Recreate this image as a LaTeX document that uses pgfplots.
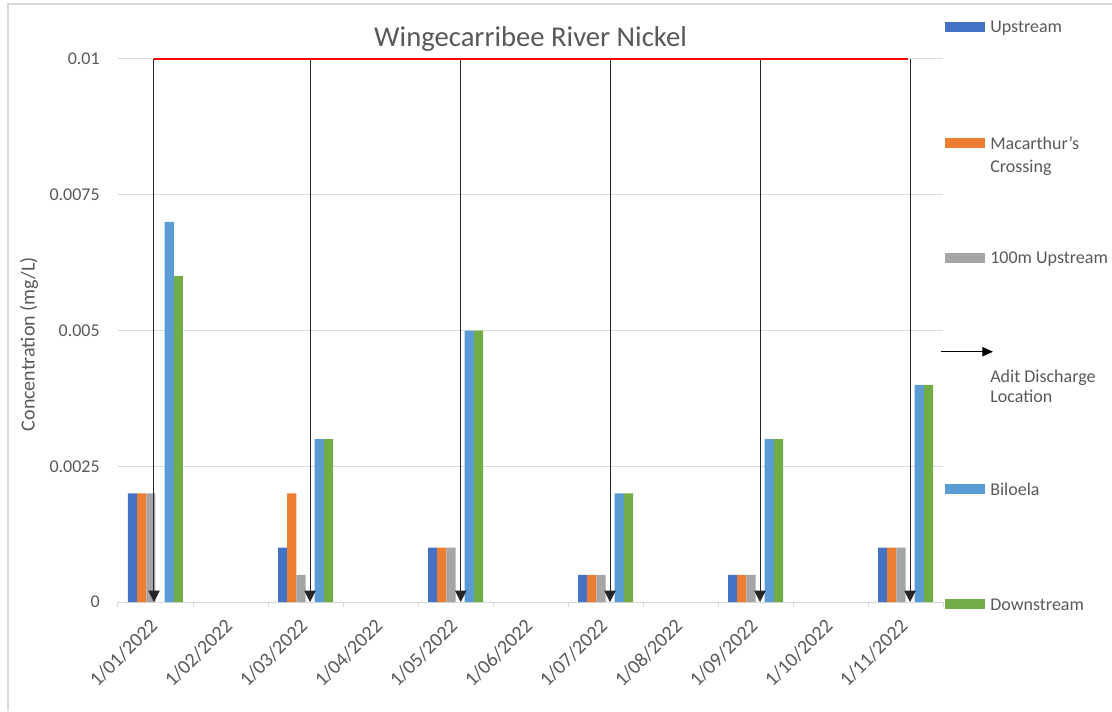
\documentclass[border=0pt]{standalone}
\usepackage{fontspec}
\setmainfont{Carlito}
\usepackage{pgfplots}
\usepackage{pgfplotstable}
\pgfplotsset{compat=1.18}
\usetikzlibrary{arrows.meta}

\definecolor{cUp}{HTML}{4472C4}
\definecolor{cMac}{HTML}{ED7D31}
\definecolor{cHun}{HTML}{A5A5A5}
\definecolor{cBil}{HTML}{5B9BD5}
\definecolor{cDown}{HTML}{70AD47}
\definecolor{txt}{HTML}{595959}
\definecolor{grd}{HTML}{D9D9D9}

% sampling months at 0,2,...,10 (1/01 ... 1/11)
\pgfplotstableread{
x  up     mac    hun    bil    down
0  0.002  0.002  0.002  0.007  0.006
2  0.001  0.002  0.0005 0.003  0.003
4  0.001  0.001  0.001  0.005  0.005
6  0.0005 0.0005 0.0005 0.002  0.002
8  0.0005 0.0005 0.0005 0.003  0.003
10 0.001  0.001  0.001  0.004  0.004
}\nickel

\begin{document}
\begin{tikzpicture}
\begin{axis}[
  at={(0,0)}, anchor=south west,
  scale only axis, width=618.75pt, height=407.25pt,
  xmin=-0.5, xmax=10.5, ymin=0, ymax=0.01,
  clip=false,
  axis line style={draw=none},
  xtick={0,...,10},
  xticklabels={1/01/2022,1/02/2022,1/03/2022,1/04/2022,1/05/2022,1/06/2022,
                1/07/2022,1/08/2022,1/09/2022,1/10/2022,1/11/2022},
  minor xtick={-0.5,0.5,...,10.5},
  ytick={0,0.0025,0.005,0.0075,0.01},
  yticklabels={0,0.0025,0.005,0.0075,0.01},
  scaled y ticks=false,
  major tick length=0pt, minor tick length=3.75pt, tick align=outside,
  tick pos=left,
  tick style={grd, line width=0.75pt},
  ymajorgrids, grid style={grd, line width=0.75pt},
  ticklabel style={font=\fontsize{13.5}{16}\selectfont, text=txt},
  yticklabel style={inner sep=0pt, anchor=east, xshift=-13.5pt},
  xticklabel style={font=\fontsize{15}{18}\selectfont, inner sep=0pt,
                    xshift=-5pt, yshift=-11pt, rotate=45, anchor=north east},
  ylabel={Concentration (mg/L)},
  ylabel style={font=\fontsize{15}{18}\selectfont, text=txt,
                at={(axis description cs:-0.1079,0.475)}, anchor=center},
  title={Wingecarribee River Nickel},
  every axis title/.style={at={(axis description cs:0.5,1)}, anchor=base, yshift=9pt,
               font=\fontsize{21.5}{26}\selectfont, text=txt},
]
\addplot[ybar, bar width=6.875pt, bar shift=-17.1875pt, fill=cUp, draw=none] table[x=x,y=up]{\nickel};
\addplot[ybar, bar width=6.875pt, bar shift=-10.3125pt, fill=cMac, draw=none] table[x=x,y=mac]{\nickel};
\addplot[ybar, bar width=6.875pt, bar shift=-3.4375pt, fill=cHun, draw=none] table[x=x,y=hun]{\nickel};
\addplot[ybar, bar width=6.875pt, bar shift=10.3125pt, fill=cBil, draw=none] table[x=x,y=bil]{\nickel};
\addplot[ybar, bar width=6.875pt, bar shift=17.1875pt, fill=cDown, draw=none] table[x=x,y=down]{\nickel};

% adit discharge location arrows
\addplot[black!85, line width=0.75pt, -{Triangle[length=8.5pt,width=8.5pt]}] coordinates {(-0.02,0.01) (-0.02,0)};
\addplot[black!85, line width=0.75pt, -{Triangle[length=8.5pt,width=8.5pt]}] coordinates {(2.06,0.01) (2.06,0)};
\addplot[black!85, line width=0.75pt, -{Triangle[length=8.5pt,width=8.5pt]}] coordinates {(4.07,0.01) (4.07,0)};
\addplot[black!85, line width=0.75pt, -{Triangle[length=8.5pt,width=8.5pt]}] coordinates {(6.06,0.01) (6.06,0)};
\addplot[black!85, line width=0.75pt, -{Triangle[length=8.5pt,width=8.5pt]}] coordinates {(8.06,0.01) (8.06,0)};
\addplot[black!85, line width=0.75pt, -{Triangle[length=8.5pt,width=8.5pt]}] coordinates {(10.06,0.01) (10.06,0)};

% guideline value
\addplot[red, line width=2pt] coordinates {(-0.02,0.01) (10.03,0.01)};
\end{axis}

% legend
\begin{scope}[font=\fontsize{13.5}{16}\selectfont, text=txt]
\fill[cUp] (620.25pt,427.5pt) rectangle ++(30pt,7.5pt);
\node[anchor=base west, inner sep=0pt] at (654pt,426.75pt) {Upstream};
\fill[cMac] (620.25pt,340.25pt) rectangle ++(30pt,7.5pt);
\node[anchor=base west, inner sep=0pt] at (654pt,339.5pt) {Macarthur’s};
\node[anchor=base west, inner sep=0pt] at (654pt,322pt) {Crossing};
\fill[cHun] (620.25pt,254.25pt) rectangle ++(30pt,7.5pt);
\node[anchor=base west, inner sep=0pt] at (654pt,253.5pt) {100m Upstream};
\draw[black, line width=0.75pt, -{Triangle[length=8pt,width=7pt]}] (617.25pt,187.7pt) -- (656.25pt,187.7pt);
\node[anchor=base west, inner sep=0pt] at (654pt,164.5pt) {Adit Discharge};
\node[anchor=base west, inner sep=0pt] at (654pt,149.5pt) {Location};
\fill[cBil] (620.25pt,81pt) rectangle ++(30pt,7.5pt);
\node[anchor=base west, inner sep=0pt] at (654pt,80.25pt) {Biloela};
\fill[cDown] (620.25pt,-5.25pt) rectangle ++(30pt,7.5pt);
\node[anchor=base west, inner sep=0pt] at (654pt,-6pt) {Downstream};
\end{scope}

% chart frame (left and top edges visible)
\draw[grd, line width=1pt] (-82.5pt,-81.75pt) -- (-82.5pt,448.5pt) -- (745.5pt,448.5pt);

\pgfresetboundingbox
\useasboundingbox (-88.5pt,-81.75pt) rectangle (745.5pt,451.5pt);
\end{tikzpicture}
\end{document}
